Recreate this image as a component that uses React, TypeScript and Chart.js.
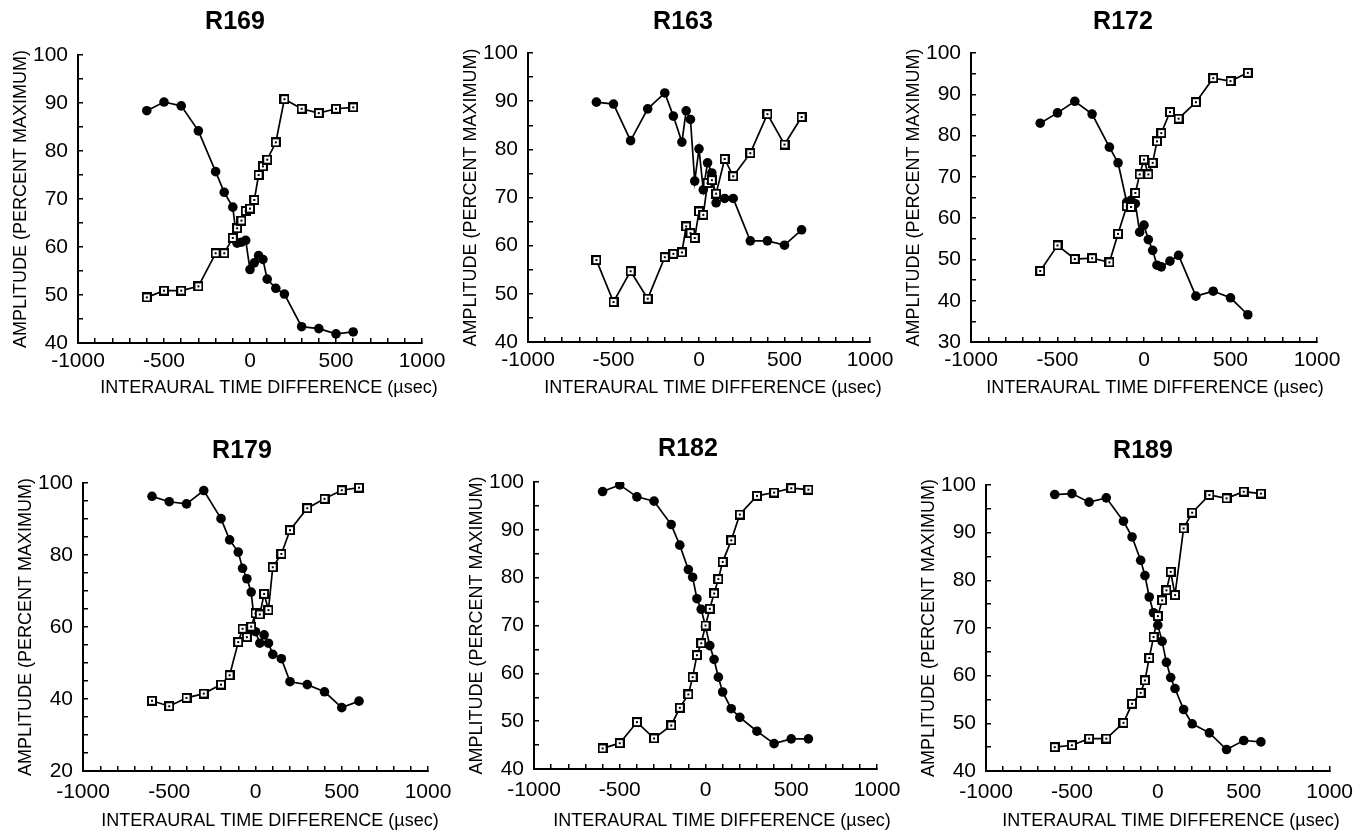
import React, { useEffect, useRef } from "react";
import { Chart, registerables } from "chart.js";

Chart.register(...registerables);

// Interaural time differences (µsec) at which every unit was measured
const ITD = [-600, -500, -400, -300, -200, -150, -100, -75, -50, -25, 0, 25, 50, 75, 100, 150, 200, 300, 400, 500, 600];

const X_MAJOR_TICKS = [-1000, -500, 0, 500, 1000];

const R169_FILLED = [88.4, 90.2, 89.4, 84.2, 75.7, 71.4, 68.3, 60.8, 61.0, 61.4, 55.3, 56.7, 58.2, 57.4, 53.3, 51.4, 50.2, 43.4, 43.0, 41.9, 42.3];
const R169_OPEN = [49.5, 50.9, 50.9, 51.8, 58.7, 58.7, 61.9, 63.9, 65.5, 67.5, 68.0, 69.8, 75.0, 76.8, 78.2, 81.8, 90.8, 88.8, 87.9, 88.8, 89.1];

const R163_FILLED = [89.8, 89.4, 81.8, 88.4, 91.7, 86.9, 81.5, 88.0, 86.2, 73.4, 80.1, 71.6, 77.2, 75.1, 68.9, 69.8, 69.8, 61.0, 61.0, 60.1, 63.3];
const R163_OPEN = [57.0, 48.3, 54.7, 49.0, 57.6, 58.3, 58.6, 64.0, 62.6, 61.6, 67.1, 66.4, 73.0, 73.6, 70.8, 78.0, 74.4, 79.2, 87.3, 81.0, 86.7];

const R172_FILLED = [83.0, 85.5, 88.3, 85.2, 77.2, 73.4, 63.9, 64.3, 63.5, 56.6, 58.3, 54.8, 52.2, 48.6, 48.2, 49.6, 51.0, 41.1, 42.3, 40.7, 36.6];
const R172_OPEN = [47.2, 53.4, 50.1, 50.3, 49.3, 56.2, 62.9, 62.7, 66.1, 70.6, 74.2, 70.6, 73.4, 78.6, 80.6, 85.7, 84.1, 88.1, 93.9, 93.2, 95.2];

const R179_FILLED = [96.3, 94.8, 94.2, 97.9, 90.1, 84.2, 80.8, 76.3, 73.4, 69.7, 58.7, 55.5, 57.8, 55.5, 52.4, 51.2, 44.8, 44.0, 42.0, 37.6, 39.4];
const R179_OPEN = [39.5, 38.0, 40.3, 41.5, 44.0, 46.6, 55.8, 59.5, 57.2, 60.1, 63.8, 63.5, 69.2, 64.7, 76.6, 80.3, 86.9, 93.0, 95.6, 98.0, 98.7];

const R182_FILLED = [98.0, 99.4, 96.9, 96.0, 91.1, 86.8, 81.7, 80.1, 75.6, 73.4, 69.8, 65.8, 62.9, 59.2, 56.1, 52.6, 50.8, 47.9, 45.3, 46.3, 46.3];
const R182_OPEN = [44.3, 45.4, 49.8, 46.4, 49.1, 52.8, 55.6, 59.2, 63.8, 66.3, 70.0, 73.5, 76.7, 79.7, 83.3, 87.8, 93.2, 97.1, 97.8, 98.7, 98.4];

const R189_FILLED = [98.0, 98.2, 96.4, 97.3, 92.4, 89.1, 84.2, 81.0, 76.5, 73.2, 70.6, 67.2, 62.8, 59.6, 57.3, 52.9, 49.9, 48.0, 44.5, 46.4, 46.1];
const R189_OPEN = [45.0, 45.4, 46.8, 46.8, 50.1, 54.1, 56.4, 59.0, 63.7, 68.1, 72.5, 75.8, 77.9, 81.8, 76.9, 90.9, 94.2, 97.9, 97.2, 98.6, 98.2];

const X_LABEL = "INTERAURAL TIME DIFFERENCE (µsec)";
const Y_LABEL = "AMPLITUDE (PERCENT MAXIMUM)";
const FONT = '"Liberation Sans", Arial, Helvetica, sans-serif';

type Panel = {
  name: string;
  filled: number[];
  open: number[];
  yMin: number;
  yMax: number;
  yMajor: number;
  canvas: { l: number; t: number; w: number; h: number };
  area: { l: number; t: number; r: number; b: number };
  title: { x: number; y: number };
  xl: { x: number; y: number };
  xTickPad: number;
};

const PANELS: Panel[] = [
  { name: "R169", filled: R169_FILLED, open: R169_OPEN, yMin: 40, yMax: 100, yMajor: 10,
    canvas: { l: 0, t: 0, w: 480, h: 410 }, area: { l: 78, t: 55, r: 422, b: 343 },
    title: { x: 235, y: 22 }, xl: { x: 269, y: 388 }, xTickPad: 11 },
  { name: "R163", filled: R163_FILLED, open: R163_OPEN, yMin: 40, yMax: 100, yMajor: 10,
    canvas: { l: 440, t: 0, w: 480, h: 410 }, area: { l: 528, t: 53, r: 870, b: 342 },
    title: { x: 683, y: 22 }, xl: { x: 713, y: 388 }, xTickPad: 11 },
  { name: "R172", filled: R172_FILLED, open: R172_OPEN, yMin: 30, yMax: 100, yMajor: 10,
    canvas: { l: 890, t: 0, w: 477, h: 410 }, area: { l: 971, t: 53, r: 1317, b: 342 },
    title: { x: 1123, y: 22 }, xl: { x: 1155, y: 388 }, xTickPad: 11 },
  { name: "R179", filled: R179_FILLED, open: R179_OPEN, yMin: 20, yMax: 100, yMajor: 20,
    canvas: { l: 0, t: 400, w: 480, h: 435 }, area: { l: 83, t: 483, r: 428, b: 771 },
    title: { x: 242, y: 451 }, xl: { x: 270, y: 821 }, xTickPad: 14 },
  { name: "R182", filled: R182_FILLED, open: R182_OPEN, yMin: 40, yMax: 100, yMajor: 10,
    canvas: { l: 440, t: 400, w: 480, h: 435 }, area: { l: 534, t: 482, r: 877, b: 769 },
    title: { x: 688, y: 449 }, xl: { x: 722, y: 821 }, xTickPad: 14 },
  { name: "R189", filled: R189_FILLED, open: R189_OPEN, yMin: 40, yMax: 100, yMajor: 10,
    canvas: { l: 890, t: 400, w: 477, h: 435 }, area: { l: 986, t: 485, r: 1330, b: 771 },
    title: { x: 1143, y: 451 }, xl: { x: 1171, y: 821 }, xTickPad: 14 },
];

const Y_W = 60;
const X_H = 30;

const panelTextPlugin = {
  id: "panelText",
  afterDraw(chart: any, _args: any, opts: any) {
    const ctx = chart.ctx;
    const a = chart.chartArea;
    ctx.save();
    ctx.fillStyle = "#000";
    ctx.textAlign = "center";
    ctx.textBaseline = "middle";
    ctx.font = `bold 25px ${FONT}`;
    ctx.fillText(opts.title, opts.titleX, opts.titleY);
    ctx.font = `18px ${FONT}`;
    ctx.fillText(opts.xLabel, opts.xLabelX, opts.xLabelY);
    ctx.translate(a.left - 57, (a.top + a.bottom) / 2);
    ctx.rotate(-Math.PI / 2);
    ctx.fillText(opts.yLabel, 0, 0);
    ctx.restore();
  },
};

function makeSquareMarker(): HTMLCanvasElement {
  const c = document.createElement("canvas");
  c.width = 10;
  c.height = 10;
  const g = c.getContext("2d")!;
  g.fillStyle = "#000";
  g.fillRect(0, 0, 10, 10);
  g.fillStyle = "#fff";
  g.fillRect(2, 2, 6, 6);
  g.fillStyle = "#000";
  g.fillRect(4, 4, 2, 2);
  return c;
}

function PanelChart({ p }: { p: Panel }) {
  const ref = useRef<HTMLCanvasElement | null>(null);
  useEffect(() => {
    if (!ref.current) return;
    const sq = makeSquareMarker();
    const pts = (vals: number[]) => ITD.map((x, i) => ({ x, y: vals[i] }));
    const c = p.canvas;
    const chart = new Chart(ref.current, {
      type: "line",
      data: {
        datasets: [
          {
            label: "open",
            data: pts(p.open),
            borderColor: "#000",
            borderWidth: 1.7,
            pointStyle: sq as any,
            pointRadius: 5,
            tension: 0,
          },
          {
            label: "filled",
            data: pts(p.filled),
            borderColor: "#000",
            backgroundColor: "#000",
            borderWidth: 1.7,
            pointStyle: "circle",
            pointRadius: 4.8,
            pointBorderWidth: 0,
            pointBackgroundColor: "#000",
            tension: 0,
          },
        ],
      },
      options: {
        animation: false,
        responsive: false,
        devicePixelRatio: 1,
        events: [],
        layout: {
          padding: {
            left: p.area.l - c.l - Y_W,
            top: p.area.t - c.t,
            right: c.l + c.w - p.area.r,
            bottom: c.t + c.h - p.area.b - X_H,
          },
        },
        plugins: {
          legend: { display: false },
          tooltip: { enabled: false },
          title: { display: false },
          panelText: {
            title: p.name,
            titleX: p.title.x - c.l,
            titleY: p.title.y - c.t,
            xLabel: X_LABEL,
            xLabelX: p.xl.x - c.l,
            xLabelY: p.xl.y - c.t,
            yLabel: Y_LABEL,
          },
        } as any,
        scales: {
          x: {
            type: "linear",
            min: -1000,
            max: 1000,
            afterFit: (s: any) => {
              s.height = X_H;
            },
            border: { display: true, color: "#000", width: 2 },
            grid: { display: true, drawOnChartArea: false, drawTicks: true, tickLength: -5, color: "#000", lineWidth: 1.5 },
            ticks: {
              stepSize: 100,
              autoSkip: false,
              maxRotation: 0,
              minRotation: 0,
              padding: p.xTickPad,
              color: "#000",
              font: { family: FONT, size: 21, lineHeight: 1.2 },
              callback: (v: any) => (X_MAJOR_TICKS.includes(Number(v)) ? String(v) : ""),
            },
          },
          y: {
            type: "linear",
            min: p.yMin,
            max: p.yMax,
            afterFit: (s: any) => {
              s.width = Y_W;
            },
            border: { display: true, color: "#000", width: 2 },
            grid: { display: true, drawOnChartArea: false, drawTicks: true, tickLength: -5, color: "#000", lineWidth: 1.5 },
            ticks: {
              stepSize: 5,
              autoSkip: false,
              padding: 15,
              color: "#000",
              font: { family: FONT, size: 21, lineHeight: 1.2 },
              callback: (v: any) => (Number(v) % p.yMajor === 0 ? String(v) : ""),
            },
          },
        },
      },
      plugins: [panelTextPlugin as any],
    });
    return () => chart.destroy();
  }, [p]);
  return (
    <canvas
      ref={ref}
      width={p.canvas.w}
      height={p.canvas.h}
      style={{ position: "absolute", left: p.canvas.l, top: p.canvas.t, width: p.canvas.w, height: p.canvas.h }}
    />
  );
}

export default function App() {
  return (
    <div style={{ position: "absolute", left: 0, top: 0, width: 1367, height: 835, background: "#fff", overflow: "hidden" }}>
      {PANELS.map((p) => (
        <PanelChart key={p.name} p={p} />
      ))}
    </div>
  );
}
